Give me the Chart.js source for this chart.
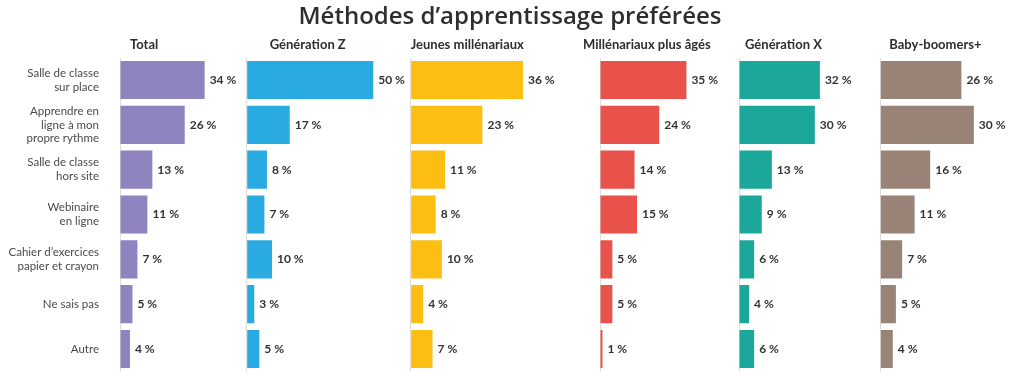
<!DOCTYPE html>
<html>
<head>
<meta charset="utf-8">
<script src="https://cdn.jsdelivr.net/npm/chart.js@4"></script>
<style>
  body { margin: 0; background: #fff; }
  #wrap { width: 1024px; height: 383px; }
</style>
</head>
<body>
<div id="wrap"><canvas id="myChart"></canvas></div>
<script>
const categories = [
  ["Salle de classe", "sur place"],
  ["Apprendre en", "ligne à mon", "propre rythme"],
  ["Salle de classe", "hors site"],
  ["Webinaire", "en ligne"],
  ["Cahier d’exercices", "papier et crayon"],
  "Ne sais pas",
  "Autre"
];
const groups = ["Total", "Génération Z", "Jeunes millénariaux", "Millénariaux plus âgés", "Génération X", "Baby-boomers+"];
const totalValues = [34, 26, 13, 11, 7, 5, 4];
const genZValues = [50, 17, 8, 7, 10, 3, 5];
const youngMillValues = [36, 23, 11, 8, 10, 4, 7];
const oldMillValues = [35, 24, 14, 15, 5, 5, 1];
const genXValues = [32, 30, 13, 9, 6, 4, 6];
const boomerValues = [26, 30, 16, 11, 7, 5, 4];

const series = [totalValues, genZValues, youngMillValues, oldMillValues, genXValues, boomerValues];
const barColors = ["#8f84bf", "#29abe2", "#fdbe14", "#e8524a", "#1ba79a", "#998376"];
// panel widths and scale max per panel (each panel has its own scale in the original)
const panelWidths = [126.7, 164, 189.3, 139, 141.3, 139.7];
const panelMax = [50.9, 64.8, 60.7, 56.3, 55.9, 44.8];
const headerShift = [10, 23, 0, -17, 6, 9];

const scales = {
  y: {
    type: "category",
    border: {display: false},
    grid: {display: false},
    ticks: {
      padding: 13,
      color: "#4a4a4a",
      font: {family: "Lato", size: 11.5, lineHeight: 1.2}
    },
    afterFit: function(scale) {
      scale.width = 120;
      // labels sit mid-category, no extra room needed above/below
      scale.paddingTop = 0;
      scale.paddingBottom = 0;
    }
  }
};
// top axes get laid out in reverse order, so add them last-to-first
for (let i = series.length - 1; i >= 0; i--) {
  scales["x" + i] = {
    type: "linear",
    position: "top",
    stack: "panels",
    stackWeight: panelWidths[i],
    min: 0,
    max: panelMax[i],
    border: {display: false},
    ticks: {display: false},
    grid: {
      drawTicks: false,
      color: function(ctx) { return ctx.tick && ctx.tick.value === 0 ? "#dcdcdc" : "rgba(0,0,0,0)"; }
    }
  };
}

const valueLabels = {
  id: "valueLabels",
  afterDatasetsDraw(chart) {
    const ctx = chart.ctx;
    ctx.save();
    ctx.font = "bold 12px Lato";
    ctx.fillStyle = "#333";
    ctx.textBaseline = "middle";
    chart.data.datasets.forEach(function(ds, i) {
      chart.getDatasetMeta(i).data.forEach(function(bar, j) {
        ctx.fillText(ds.data[j] + " %", bar.x + 5, bar.y);
      });
    });
    ctx.restore();
  }
};

const panelHeaders = {
  id: "panelHeaders",
  afterDraw(chart) {
    const ctx = chart.ctx;
    ctx.save();
    ctx.font = "bold 13px Lato";
    ctx.fillStyle = "#2e2e2e";
    ctx.textBaseline = "middle";
    groups.forEach(function(g, i) {
      const sc = chart.scales["x" + i];
      ctx.fillText(g, sc.left + headerShift[i], 45);
    });
    ctx.restore();
  }
};

new Chart("myChart", {
  type: "bar",
  data: {
    labels: categories,
    datasets: series.map(function(s, i) {
      return {
        label: groups[i],
        data: s,
        backgroundColor: barColors[i],
        xAxisID: "x" + i,
        yAxisID: "y",
        grouped: false,
        categoryPercentage: 0.85,
        barPercentage: 1
      };
    })
  },
  options: {
    indexAxis: "y",
    responsive: true,
    maintainAspectRatio: false,
    animation: false,
    layout: {padding: {left: 0, right: 4, bottom: 11.6, top: 0}},
    scales: scales,
    plugins: {
      legend: {display: false},
      tooltip: {enabled: false},
      title: {
        display: true,
        text: "Méthodes d’apprentissage préférées",
        color: "#2e2e2e",
        font: {family: "Open Sans", size: 24, weight: "600", lineHeight: 1.25},
        padding: {top: 2, bottom: 25.6}
      }
    }
  },
  plugins: [valueLabels, panelHeaders]
});
</script>
</body>
</html>
